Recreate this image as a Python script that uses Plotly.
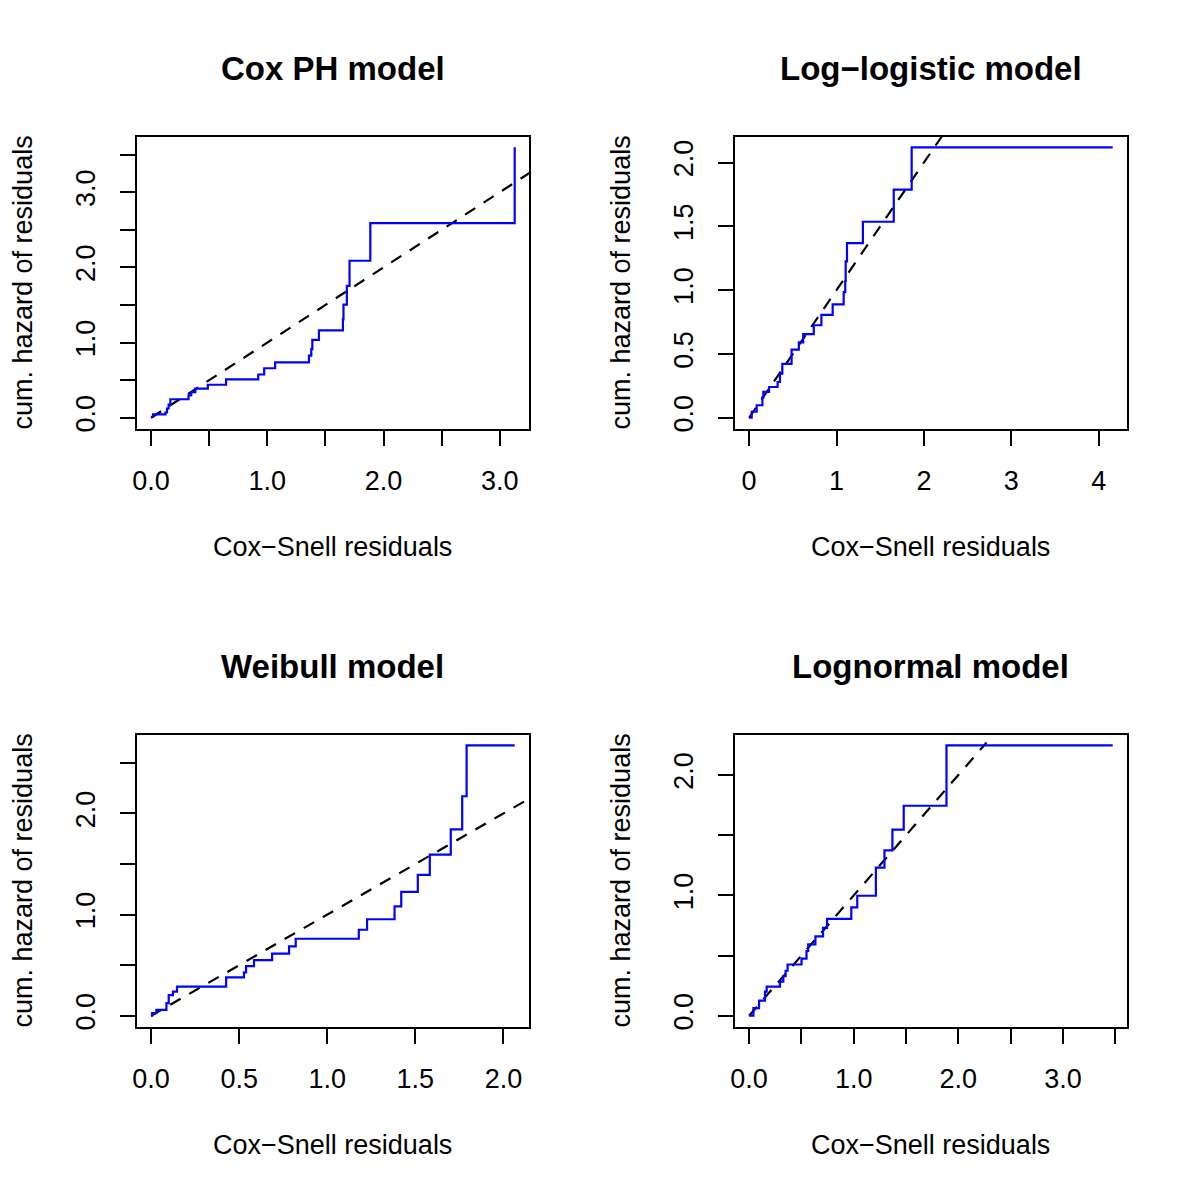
import plotly.graph_objects as go

# ---------------- data ----------------
panel_titles = ["Cox PH model", "Log\u2212logistic model", "Weibull model", "Lognormal model"]
x_title = "Cox\u2212Snell residuals"
y_title = "cum. hazard of residuals"

cox_t = [0.0, 0.017, 0.123, 0.137, 0.151, 0.166, 0.322, 0.345, 0.380, 0.488, 0.645, 0.922,
         0.973, 1.067, 1.358, 1.378, 1.387, 1.444, 1.650, 1.655, 1.684, 1.707, 1.886, 3.128]
cox_h = [0.013, 0.044, 0.070, 0.123, 0.175, 0.246, 0.298, 0.342, 0.386, 0.439, 0.509, 0.575,
         0.658, 0.737, 0.825, 0.912, 1.035, 1.162, 1.307, 1.504, 1.754, 2.088, 2.588, 3.596]

loglog_t = [0.0, 0.030, 0.087, 0.152, 0.163, 0.228, 0.326, 0.353, 0.380, 0.486, 0.569, 0.619,
            0.740, 0.827, 0.956, 1.082, 1.100, 1.105, 1.120, 1.302, 1.655, 1.860, 4.160]
loglog_h = [0.0, 0.047, 0.098, 0.160, 0.202, 0.241, 0.280, 0.345, 0.422, 0.534, 0.590, 0.655,
            0.725, 0.806, 0.889, 0.984, 1.070, 1.225, 1.368, 1.536, 1.788, 2.119, 2.119]

weib_t = [0.0, 0.006, 0.030, 0.087, 0.100, 0.124, 0.147, 0.426, 0.527, 0.539, 0.584, 0.687,
          0.783, 0.821, 1.179, 1.226, 1.382, 1.420, 1.514, 1.582, 1.701, 1.766, 1.791, 2.064]
weib_h = [0.0, 0.026, 0.059, 0.124, 0.203, 0.239, 0.288, 0.379, 0.428, 0.490, 0.549, 0.614,
          0.686, 0.761, 0.850, 0.954, 1.082, 1.225, 1.392, 1.592, 1.843, 2.170, 2.673, 2.673]

logn_t = [0.0, 0.041, 0.095, 0.152, 0.168, 0.295, 0.327, 0.349, 0.368, 0.501, 0.549, 0.565,
          0.634, 0.707, 0.745, 0.977, 1.034, 1.212, 1.294, 1.370, 1.478, 1.887, 3.476]
logn_h = [0.0, 0.063, 0.126, 0.201, 0.242, 0.283, 0.330, 0.374, 0.426, 0.475, 0.538, 0.593,
          0.659, 0.731, 0.805, 0.901, 0.997, 1.231, 1.374, 1.547, 1.745, 2.247, 2.247]

# reference line y = x : start / end of the drawn segment per panel
ref_start = [0.0, 0.0, 0.0, 0.0]
ref_end = [4.0, 4.0, 4.0, 2.27]

# tick values / labels
cox_xticks = [0, 0.5, 1, 1.5, 2, 2.5, 3]
cox_xlabels = ["0.0", "", "1.0", "", "2.0", "", "3.0"]
cox_yticks = [0, 0.5, 1, 1.5, 2, 2.5, 3, 3.5]
cox_ylabels = ["0.0", "", "1.0", "", "2.0", "", "3.0", ""]

loglog_xticks = [0, 1, 2, 3, 4]
loglog_xlabels = ["0", "1", "2", "3", "4"]
loglog_yticks = [0, 0.5, 1, 1.5, 2]
loglog_ylabels = ["0.0", "0.5", "1.0", "1.5", "2.0"]

weib_xticks = [0, 0.5, 1, 1.5, 2]
weib_xlabels = ["0.0", "0.5", "1.0", "1.5", "2.0"]
weib_yticks = [0, 0.5, 1, 1.5, 2, 2.5]
weib_ylabels = ["0.0", "", "1.0", "", "2.0", ""]

logn_xticks = [0, 0.5, 1, 1.5, 2, 2.5, 3, 3.5]
logn_xlabels = ["0.0", "", "1.0", "", "2.0", "", "3.0", ""]
logn_yticks = [0, 0.5, 1, 1.5, 2]
logn_ylabels = ["0.0", "", "1.0", "", "2.0"]

panels = [
    (cox_t, cox_h, cox_xticks, cox_xlabels, cox_yticks, cox_ylabels),
    (loglog_t, loglog_h, loglog_xticks, loglog_xlabels, loglog_yticks, loglog_ylabels),
    (weib_t, weib_h, weib_xticks, weib_xlabels, weib_yticks, weib_ylabels),
    (logn_t, logn_h, logn_xticks, logn_xlabels, logn_yticks, logn_ylabels),
]

# ---------------- layout ----------------
W = H = 1200
DX = -3  # small horizontal calibration
FONT = "Liberation Sans, Arial, Helvetica, sans-serif"
xdomains = [[(136 + DX) / W, (530 + DX) / W], [(736 + DX) / W, (1130 + DX) / W]]
ydomains = [[1 - 430 / H, 1 - 137 / H], [1 - 1030 / H, 1 - 737 / H]]

fig = go.Figure()
layout = dict(
    width=W, height=H, margin=dict(l=0, r=0, t=0, b=0),
    paper_bgcolor="white", plot_bgcolor="white", showlegend=False,
    font=dict(family=FONT, size=27, color="black"),
)
annotations = []


def pad(lo, hi):
    s = hi - lo
    return [lo - 0.04 * s, hi + 0.04 * s]


for i, (t, h, xt, xl, yt, yl) in enumerate(panels):
    row, col = divmod(i, 2)
    n = i + 1
    xa = "x" if n == 1 else f"x{n}"
    ya = "y" if n == 1 else f"y{n}"
    xr = pad(min(t), max(t))
    yr = pad(min(0, min(h)), max(h))

    # reference line y = x (dashed)
    seg = [ref_start[i], ref_end[i]]
    fig.add_trace(go.Scatter(x=seg, y=seg, mode="lines", xaxis=xa, yaxis=ya,
                             line=dict(color="black", width=2.2, dash="12px,10px"),
                             hoverinfo="skip"))
    # step function of cumulative hazard
    fig.add_trace(go.Scatter(x=t, y=h, mode="lines", xaxis=xa, yaxis=ya,
                             line=dict(color="#0000FF", width=2.2, shape="hv")))

    axcommon = dict(showline=True, mirror=True, linecolor="black", linewidth=2,
                    ticks="outside", ticklen=15, tickwidth=2, tickcolor="black",
                    showgrid=False, zeroline=False, tickmode="array",
                    tickfont=dict(family=FONT, size=27, color="black"),
                    ticklabelstandoff=12, fixedrange=True)
    layout["xaxis" if n == 1 else f"xaxis{n}"] = dict(
        axcommon, domain=xdomains[col], range=xr, tickvals=xt, ticktext=xl,
        anchor=ya, tickangle=0)
    layout["yaxis" if n == 1 else f"yaxis{n}"] = dict(
        axcommon, domain=ydomains[row], range=yr, tickvals=yt, ticktext=yl,
        anchor=xa, tickangle=-90, ticklabelstandoff=14)

    xc = sum(xdomains[col]) / 2
    yc = sum(ydomains[row]) / 2
    off = 600 * row
    annotations.append(dict(text=panel_titles[i], xref="paper", yref="paper",
                            x=xc, y=1 - (69 + off) / H, showarrow=False,
                            xanchor="center", yanchor="middle",
                            font=dict(family=FONT, size=33, color="black", weight="bold")))
    annotations.append(dict(text=x_title, xref="paper", yref="paper",
                            x=xc, y=1 - (549 + off) / H, showarrow=False,
                            xanchor="center", yanchor="middle",
                            font=dict(family=FONT, size=27, color="black")))
    annotations.append(dict(text=y_title, xref="paper", yref="paper",
                            x=(22 + DX + 600 * col) / W, y=yc, showarrow=False, textangle=-90,
                            xanchor="center", yanchor="middle",
                            font=dict(family=FONT, size=27, color="black")))

layout["annotations"] = annotations
fig.update_layout(**layout)
fig.write_html("out.html", config={"displayModeBar": False},
               post_script="document.body.style.margin='0';document.body.style.overflow='hidden';")
